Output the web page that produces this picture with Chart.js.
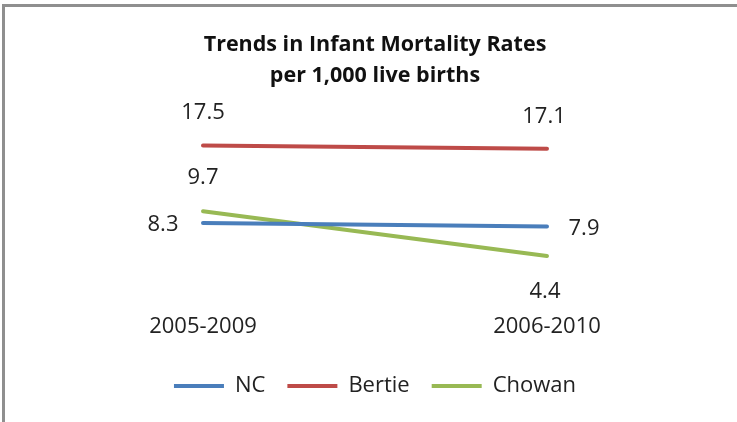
<!DOCTYPE html>
<html>
<head>
<meta charset="utf-8">
<script src="https://cdn.jsdelivr.net/npm/chart.js@4.4.0/dist/chart.umd.min.js"></script>
<style>
  html, body { margin: 0; padding: 0; background: #fff; }
  #wrap { position: relative; width: 737px; height: 422px; }
  #frame {
    position: absolute; left: 2px; top: 4px; right: 0; bottom: 0;
    border-left: 3px solid #8f8f8f; border-top: 3px solid #8f8f8f;
    pointer-events: none;
  }
</style>
</head>
<body>
<div id="wrap">
  <canvas id="chart" width="737" height="422"></canvas>
  <div id="frame"></div>
</div>
<script>
"use strict";

// chart data
const periods = ["2005-2009", "2006-2010"];
const seriesNames = ["NC", "Bertie", "Chowan"];
const ncRates = [8.3, 7.9];
const bertieRates = [17.5, 17.1];
const chowanRates = [9.7, 4.4];
const titleLines = ["Trends in Infant Mortality Rates", "per 1,000 live births"];

const lineColors = ["#4a7ebb", "#be4b48", "#98b954"];
const fontName = "'Open Sans', 'Liberation Sans', sans-serif";

// where each value label sits next to its point [dx, dy] (per series, per period)
const labelOffsets = [
  [[-40, 2], [37, 2]],
  [[0, -33], [-3, -32]],
  [[0, -33], [-2, 36]]
];

// draws the number next to each point, like excel data labels
const valueLabels = {
  id: "valueLabels",
  afterDatasetsDraw(chart) {
    const ctx = chart.ctx;
    ctx.save();
    ctx.font = "22px " + fontName;
    ctx.fillStyle = "#222";
    ctx.textAlign = "center";
    ctx.textBaseline = "middle";
    chart.data.datasets.forEach(function (ds, i) {
      const meta = chart.getDatasetMeta(i);
      meta.data.forEach(function (pt, j) {
        const off = labelOffsets[i][j];
        ctx.fillText(ds.data[j].toFixed(1), pt.x + off[0], pt.y + off[1]);
      });
    });
    ctx.restore();
  }
};

function makeSet(name, values, color) {
  return {
    label: name,
    data: values,
    borderColor: color,
    backgroundColor: color,
    borderWidth: 4,
    borderCapStyle: "round",
    pointRadius: 0,
    pointHoverRadius: 0,
    tension: 0
  };
}

const data = {
  labels: periods,
  datasets: [
    makeSet(seriesNames[0], ncRates, lineColors[0]),
    makeSet(seriesNames[1], bertieRates, lineColors[1]),
    makeSet(seriesNames[2], chowanRates, lineColors[2])
  ]
};

const config = {
  type: "line",
  data: data,
  plugins: [valueLabels],
  options: {
    responsive: false,
    animation: false,
    events: [],
    layout: { padding: { left: 31, right: 18, top: 0, bottom: 15 } },
    plugins: {
      title: {
        display: true,
        text: titleLines,
        color: "#111",
        font: { family: fontName, size: 21.5, weight: "bold", lineHeight: 1.45 },
        padding: { top: 29, bottom: 33 }
      },
      legend: {
        position: "bottom",
        labels: {
          usePointStyle: true,
          pointStyle: "line",
          pointStyleWidth: 50,
          color: "#222",
          font: { family: fontName, size: 22 },
          padding: 22
        }
      },
      tooltip: { enabled: false }
    },
    scales: {
      x: {
        offset: true,
        grid: { display: false, drawTicks: false },
        border: { display: false },
        ticks: { color: "#222", font: { family: fontName, size: 22 }, padding: 21 },
        afterFit: function (axis) { axis.height = 60; }
      },
      y: {
        display: false,
        min: 0,
        max: 20
      }
    }
  }
};

const myChart = new Chart(document.getElementById("chart"), config);
</script>
</body>
</html>
